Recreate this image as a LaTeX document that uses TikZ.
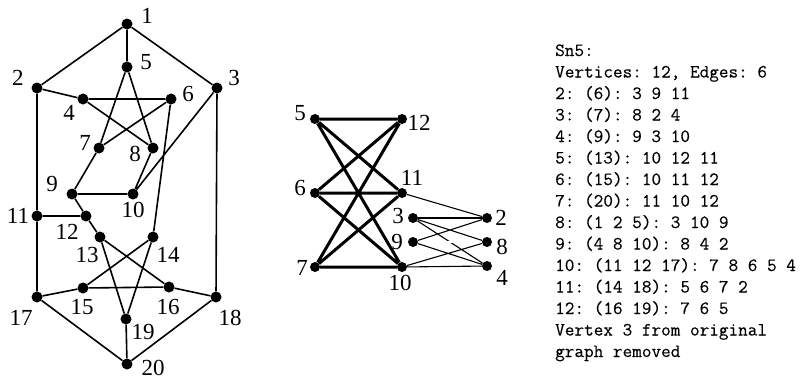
\documentclass[tikz,border=0pt]{standalone}
\usepackage{fontspec}
\setmainfont{Liberation Serif}
\setmonofont{Latin Modern Mono}[FakeBold=0.3]
\begin{document}
\frenchspacing
\begin{tikzpicture}[x=1pt,y=-1pt,
  v/.style={circle,fill=black,inner sep=0pt,minimum size=11pt},
  mv/.style={circle,fill=black,inner sep=0pt,minimum size=10pt},
  lab/.style={font=\fontsize{23}{23}\selectfont,inner sep=0pt},
  e/.style={line width=1.6pt},
  te/.style={line width=3pt},
  fe/.style={line width=1.1pt},
  de/.style={line width=0.8pt,double,double distance=1.2pt},
  tt/.style={font=\ttfamily\fontsize{18.7}{21.5}\selectfont,inner sep=0pt,anchor=base west}]
\useasboundingbox (0,0) rectangle (803,381);
% left graph
\node[v] (a1) at (127,24) {};
\node[v] (a2) at (37,88) {};
\node[v] (a3) at (217,88) {};
\node[v] (a4) at (83,99) {};
\node[v] (a5) at (127,67) {};
\node[v] (a6) at (171,99) {};
\node[v] (a7) at (99,148) {};
\node[v] (a8) at (153,148) {};
\node[v] (a9) at (72,194) {};
\node[v] (a10) at (133,194) {};
\node[v] (a11) at (37,216) {};
\node[v] (a12) at (86,216) {};
\node[v] (a13) at (100,237) {};
\node[v] (a14) at (153,237) {};
\node[v] (a15) at (83,288) {};
\node[v] (a16) at (169,287) {};
\node[v] (a17) at (37,297) {};
\node[v] (a18) at (216,297) {};
\node[v] (a19) at (126,319) {};
\node[v] (a20) at (127,364) {};
\draw[e] (a1)--(a2) (a1)--(a3) (a1)--(a5) (a2)--(a4) (a2)--(a11) (a3)--(a18) (a3)--(a10)
  (a4)--(a6) (a4)--(a8) (a5)--(a7) (a5)--(a8) (a6)--(a7) (a6)--(a14) (a7)--(a9) (a8)--(a10)
  (a9)--(a10) (a9)--(a12) (a11)--(a12) (a11)--(a17) (a12)--(a13) (a13)--(a16) (a13)--(a19)
  (a14)--(a15) (a14)--(a19) (a15)--(a16) (a15)--(a17) (a16)--(a18) (a17)--(a20) (a18)--(a20) (a19)--(a20);
\node[lab] (la1) at (147,16) {1};
\node[lab] (la2) at (18,78) {2};
\node[lab] (la3) at (234,78) {3};
\node[lab] (la4) at (69,113) {4};
\node[lab] (la5) at (146,62) {5};
\node[lab] (la6) at (188,94) {6};
\node[lab] (la7) at (85,143) {7};
\node[lab] (la8) at (135,154) {8};
\node[lab] (la9) at (52,184) {9};
\node[lab] (la10) at (133,210) {10};
\node[lab] (la11) at (18,216) {11};
\node[lab] (la12) at (67,232) {12};
\node[lab] (la13) at (87,255) {13};
\node[lab] (la14) at (168,255) {14};
\node[lab] (la15) at (82,307) {15};
\node[lab] (la16) at (168,307) {16};
\node[lab] (la17) at (21,318) {17};
\node[lab] (la18) at (230,318) {18};
\node[lab] (la19) at (143,332) {19};
\node[lab] (la20) at (153,368) {20};
% middle graph
\node[mv] (m5) at (315,119) {};
\node[mv] (m12) at (402,119) {};
\node[mv] (m6) at (315,193) {};
\node[mv] (m11) at (402,193) {};
\node[mv] (m7) at (315,267) {};
\node[mv] (m10) at (402,267) {};
\node[mv] (m3) at (413,218) {};
\node[mv] (m9) at (413,242) {};
\node[mv] (m2) at (487,218) {};
\node[mv] (m8) at (487,242) {};
\node[mv] (m4) at (487,266) {};
\draw[te] (m5)--(m12) (m5)--(m11) (m5)--(m10) (m6)--(m12) (m6)--(m11) (m6)--(m10)
  (m7)--(m12) (m7)--(m11) (m7)--(m10);
\draw[fe] (m11)--(m2) (m10)--(m8) (m10)--(m4) (m3)--(m8) (m3)--(m4) (m9)--(m2) (m9)--(m4);
\draw[line width=1.8pt] (m3)--(m2);
\draw[de] (m9)--(m8);
\node[lab] (lm5) at (300,113) {5};
\node[lab] (lm12) at (419,123) {12};
\node[lab] (lm6) at (300,188) {6};
\node[lab] (lm11) at (412,178) {11};
\node[lab] (lm7) at (302,268) {7};
\node[lab] (lm10) at (400,283) {10};
\node[lab] (lm3) at (398,216) {3};
\node[lab] (lm9) at (397,242) {9};
\node[lab] (lm2) at (501,218) {2};
\node[lab] (lm8) at (502,247) {8};
\node[lab] (lm4) at (502,278) {4};
% text
\node[tt] (t1) at (555,56) {Sn5:};
\node[tt] (t2) at (555,77.5) {Vertices: 12, Edges: 6};
\node[tt] (t3) at (555,99) {2: (6): 3 9 11};
\node[tt] (t4) at (555,120.5) {3: (7): 8 2 4};
\node[tt] (t5) at (555,142) {4: (9): 9 3 10};
\node[tt] (t6) at (555,163.5) {5: (13): 10 12 11};
\node[tt] (t7) at (555,185) {6: (15): 10 11 12};
\node[tt] (t8) at (555,206.5) {7: (20): 11 10 12};
\node[tt] (t9) at (555,228) {8: (1 2 5): 3 10 9};
\node[tt] (t10) at (555,249.5) {9: (4 8 10): 8 4 2};
\node[tt] (t11) at (555,271) {10: (11 12 17): 7 8 6 5 4};
\node[tt] (t12) at (555,292.5) {11: (14 18): 5 6 7 2};
\node[tt] (t13) at (555,314) {12: (16 19): 7 6 5};
\node[tt] (t14) at (555,335.5) {Vertex 3 from original};
\node[tt] (t15) at (555,357) {graph removed};
\end{tikzpicture}
\end{document}
